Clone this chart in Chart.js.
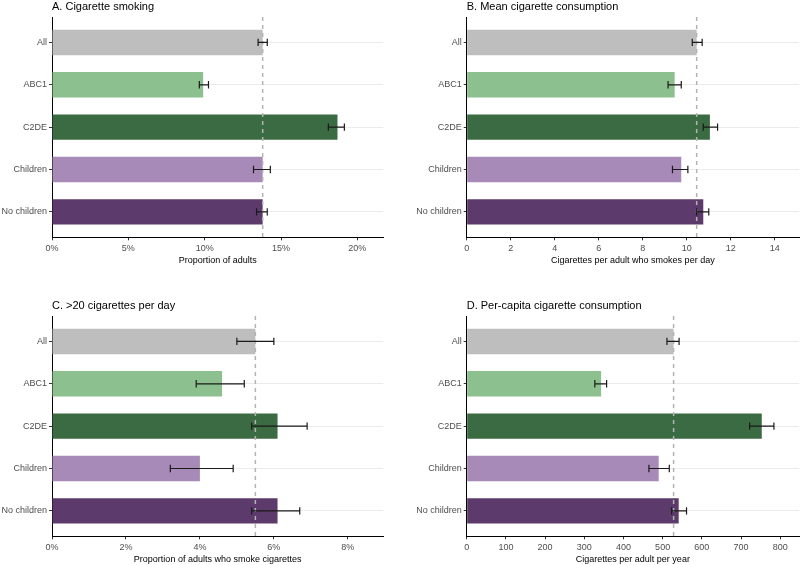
<!DOCTYPE html>
<html>
<head>
<meta charset="utf-8">
<script src="https://cdn.jsdelivr.net/npm/chart.js@4"></script>
<style>
  body { margin: 0; background: #fff; width: 800px; height: 565px; position: relative; overflow: hidden; }
  canvas { position: absolute; }
</style>
</head>
<body>
<canvas id="cA" width="400" height="266" style="left:0;top:0"></canvas>
<canvas id="cB" width="400" height="266" style="left:400px;top:0"></canvas>
<canvas id="cC" width="400" height="266" style="left:0;top:299px"></canvas>
<canvas id="cD" width="400" height="266" style="left:400px;top:299px"></canvas>
<script>
const groups = ["All", "ABC1", "C2DE", "Children", "No children"];

// A. cigarette smoking (%)
const smokingPct = [13.8, 9.9, 18.7, 13.8, 13.8];
const smokingLo = [13.5, 9.65, 18.1, 13.2, 13.4];
const smokingHi = [14.1, 10.25, 19.15, 14.3, 14.1];
const ticksA = [0, 5, 10, 15, 20];

// B. mean cigarettes per smoker per day
const meanCigs = [10.45, 9.45, 11.05, 9.75, 10.75];
const meanLo = [10.25, 9.15, 10.75, 9.35, 10.45];
const meanHi = [10.7, 9.75, 11.4, 10.05, 11.0];
const ticksB = [0, 2, 4, 6, 8, 10, 12, 14];

// C. >20 cigarettes per day (%)
const heavyPct = [5.5, 4.6, 6.1, 4.0, 6.1];
const heavyLo = [5.0, 3.9, 5.4, 3.2, 5.4];
const heavyHi = [6.0, 5.2, 6.9, 4.9, 6.7];
const ticksC = [0, 2, 4, 6, 8];

// D. per-capita cigarettes per year
const perCapita = [528, 343, 753, 490, 541];
const perCapitaLo = [511, 327, 722, 465, 523];
const perCapitaHi = [542, 357, 784, 517, 561];
const ticksD = [0, 100, 200, 300, 400, 500, 600, 700, 800];

const barColours = ["#bebebe", "#8cc08f", "#3b6b42", "#a88ab8", "#5c3a6b"];

Chart.defaults.font.family = '"Liberation Sans", Arial, sans-serif';
Chart.defaults.animation = false;

function makePanel(id, title, values, lo, hi, ticks, xMax, xTitle, fmt, leftWidth, rightPad) {
  const extras = {
    id: "extras",
    afterDatasetsDraw(chart) {
      const c = chart.ctx, xs = chart.scales.x, ys = chart.scales.y, area = chart.chartArea;
      // reference line at overall value
      c.save();
      c.strokeStyle = "#b3b3b3";
      c.lineWidth = 1.5;
      c.setLineDash([4, 4]);
      const xr = xs.getPixelForValue(values[0]);
      c.beginPath();
      c.moveTo(xr, area.top);
      c.lineTo(xr, area.bottom);
      c.stroke();
      c.restore();
      // error bars
      c.save();
      c.strokeStyle = "#1a1a1a";
      c.lineWidth = 1.2;
      groups.forEach((g, i) => {
        const y = ys.getPixelForValue(i);
        const x1 = xs.getPixelForValue(lo[i]);
        const x2 = xs.getPixelForValue(hi[i]);
        c.beginPath();
        c.moveTo(x1, y); c.lineTo(x2, y);
        c.moveTo(x1, y - 3.7); c.lineTo(x1, y + 3.7);
        c.moveTo(x2, y - 3.7); c.lineTo(x2, y + 3.7);
        c.stroke();
      });
      c.restore();
    },
    afterDraw(chart) {
      const c = chart.ctx;
      c.save();
      c.font = '11px "Liberation Sans", Arial, sans-serif';
      c.fillStyle = "#000";
      c.textBaseline = "alphabetic";
      c.fillText(title, chart.chartArea.left, 10);
      c.restore();
    }
  };

  new Chart(document.getElementById(id), {
    type: "bar",
    data: {
      datasets: [{
        data: values.map((v, i) => ({ x: v, y: i })),
        backgroundColor: barColours,
        barPercentage: 0.6,
        categoryPercentage: 1
      }]
    },
    options: {
      indexAxis: "y",
      responsive: false,
      layout: { padding: { top: 17, left: 0, right: rightPad, bottom: 0 } },
      plugins: { legend: { display: false }, tooltip: { enabled: false } },
      scales: {
        y: {
          type: "linear",
          reverse: true,
          min: -0.6,
          max: 4.6,
          offset: false,
          afterBuildTicks: s => { s.ticks = groups.map((g, i) => ({ value: i })); },
          afterFit: s => { s.width = leftWidth; },
          ticks: { callback: v => groups[v], color: "#4d4d4d", font: { size: 9 }, padding: 2, autoSkip: false },
          grid: { color: "#ebebeb", lineWidth: 1, tickColor: "#333", tickLength: 3, offset: false },
          border: { color: "#000", width: 1 }
        },
        x: {
          type: "linear",
          min: 0,
          max: xMax,
          offset: false,
          afterBuildTicks: s => { s.ticks = ticks.map(v => ({ value: v })); },
          afterFit: s => { s.height = 28.7; },
          ticks: { callback: fmt, color: "#4d4d4d", font: { size: 9 }, padding: 3, maxRotation: 0, autoSkip: false },
          grid: { drawOnChartArea: false, tickColor: "#333", tickLength: 3 },
          border: { color: "#000", width: 1 },
          title: { display: true, text: xTitle, color: "#000", font: { size: 9 }, padding: 0 }
        }
      }
    },
    plugins: [extras]
  });
}

const pct = v => v + "%";
const num = v => String(v);

makePanel("cA", "A. Cigarette smoking", smokingPct, smokingLo, smokingHi, ticksA, 21.7,
  "Proportion of adults", pct, 52, 16.7);
makePanel("cB", "B. Mean cigarette consumption", meanCigs, meanLo, meanHi, ticksB, 15.1,
  "Cigarettes per adult who smokes per day", num, 66.7, 1);
makePanel("cC", "C. >20 cigarettes per day", heavyPct, heavyLo, heavyHi, ticksC, 8.96,
  "Proportion of adults who smoke cigarettes", pct, 52, 16.7);
makePanel("cD", "D. Per-capita cigarette consumption", perCapita, perCapitaLo, perCapitaHi, ticksD, 848,
  "Cigarettes per adult per year", num, 66.7, 1);
</script>
</body>
</html>
